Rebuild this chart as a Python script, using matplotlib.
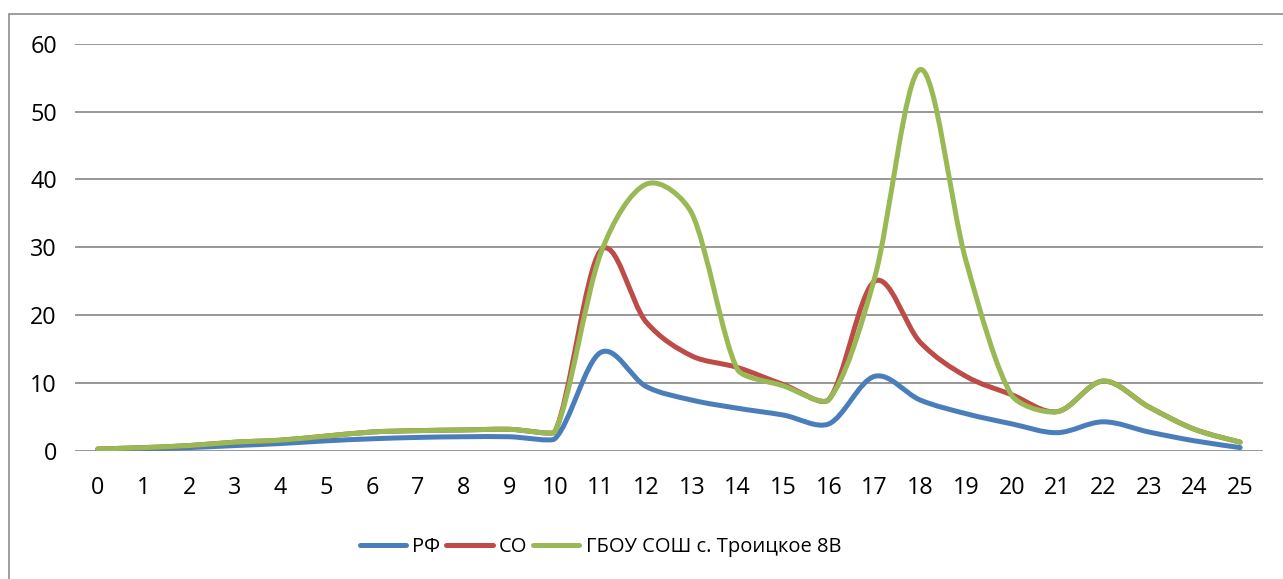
import numpy as np
import matplotlib
matplotlib.use("Agg")
import matplotlib.pyplot as plt
from matplotlib.path import Path
from matplotlib.patches import PathPatch, Rectangle
from matplotlib.lines import Line2D

plt.rcParams['font.family'] = ['Open Sans', 'DejaVu Sans']

# Данные
hours = list(range(26))
rf = [0.2, 0.3, 0.5, 0.8, 1.1, 1.5, 1.8, 2.0, 2.1, 2.1, 1.8,
      14.5, 9.5, 7.5, 6.3, 5.3, 4.0, 11.0, 7.5, 5.5, 4.0, 2.7, 4.3, 2.8, 1.5, 0.5]
so = [0.3, 0.5, 0.8, 1.3, 1.6, 2.2, 2.8, 3.0, 3.1, 3.2, 2.8,
      29.5, 19.0, 14.0, 12.3, 9.8, 7.6, 25.0, 16.0, 11.0, 8.3, 5.8, 10.3, 6.5, 3.2, 1.3]
school = [0.3, 0.5, 0.8, 1.3, 1.6, 2.2, 2.8, 3.0, 3.1, 3.2, 2.8,
          29.0, 39.3, 35.0, 12.0, 9.6, 7.6, 25.5, 56.2, 28.0, 8.2, 5.8, 10.3, 6.5, 3.2, 1.3]
labels = ["РФ", "СО", "ГБОУ СОШ с. Троицкое 8В"]
colors = ["#4A7EBB", "#BE4B48", "#98B954"]


def smooth_path(x, y):
    # сглаживание как в Excel: Безье 1/6, плечо не длиннее половины хорды
    pts = np.column_stack([x, y]).astype(float)
    n = len(pts)
    verts = [pts[0]]
    codes = [Path.MOVETO]
    for i in range(n - 1):
        p0 = pts[i - 1] if i > 0 else pts[i]
        p1 = pts[i]
        p2 = pts[i + 1]
        p3 = pts[i + 2] if i + 2 < n else pts[i + 1]
        half = np.hypot(*(p2 - p1)) / 2.0
        a1 = (p2 - p0) / 6.0
        a2 = (p3 - p1) / 6.0
        if np.hypot(*a1) > half:
            a1 = a1 * half / np.hypot(*a1)
        if np.hypot(*a2) > half:
            a2 = a2 * half / np.hypot(*a2)
        verts += [p1 + a1, p2 - a2, p2]
        codes += [Path.CURVE4] * 3
    return Path(verts, codes)


fig = plt.figure(figsize=(12.83, 5.79), dpi=100)
ax = fig.add_axes([75 / 1283, 1 - 451 / 579, (1263 - 75) / 1283, (451 - 43.7) / 579])

# рамка диаграммы
fig.patches.append(Rectangle((9 / 1283, -0.1), 1.2, 1 - 14 / 579 + 0.1,
                             transform=fig.transFigure, fill=False,
                             edgecolor="#8C8C8C", linewidth=1.2))

ax.set_xlim(-0.5, 25.5)
ax.set_ylim(0, 60)

for series, color in zip([rf, so, school], colors):
    ax.add_patch(PathPatch(smooth_path(hours, series), facecolor="none",
                           edgecolor=color, linewidth=3.6, capstyle="round",
                           joinstyle="round"))

ax.set_yticks(range(0, 61, 10))
ax.set_xticks(hours)
ax.grid(axis="y", color="#868686", linewidth=1.2)
ax.set_axisbelow(True)
for s in ax.spines.values():
    s.set_visible(False)
ax.tick_params(axis="both", length=0, labelsize=16.8, colors="black")
ax.tick_params(axis="y", pad=13)
ax.tick_params(axis="x", pad=18)

handles = [Line2D([0], [0], color=c, linewidth=3.6, solid_capstyle="round") for c in colors]
fig.legend(handles, labels, loc="center", bbox_to_anchor=(0.468, 1 - 547 / 579),
           ncol=3, frameon=False, fontsize=14.5, handlelength=2.3,
           handletextpad=0.3, columnspacing=0.3)

fig.savefig("out.png", dpi=100)
